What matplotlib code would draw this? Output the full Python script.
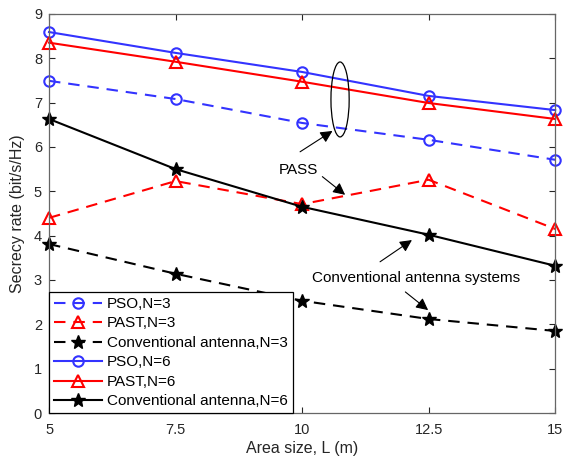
import numpy as np
import matplotlib
matplotlib.use("Agg")
import matplotlib.pyplot as plt
from matplotlib.patches import Ellipse

plt.rcParams['font.family'] = ['Liberation Sans', 'DejaVu Sans']

# data
area_size = [5, 7.5, 10, 12.5, 15]
pso_n3 = [7.49, 7.08, 6.54, 6.16, 5.71]
past_n3 = [4.40, 5.23, 4.71, 5.26, 4.15]
conv_n3 = [3.81, 3.14, 2.53, 2.12, 1.85]
pso_n6 = [8.59, 8.12, 7.69, 7.15, 6.83]
past_n6 = [8.35, 7.92, 7.47, 6.99, 6.63]
conv_n6 = [6.63, 5.50, 4.65, 4.02, 3.32]
x_ticks = [5, 7.5, 10, 12.5, 15]
x_tick_labels = ['5', '7.5', '10', '12.5', '15']

blue = '#3333ff'
red = '#ff0000'
dash = (0, (5.5, 3.8))

fig = plt.figure(figsize=(5.7, 4.62), dpi=100)
ax = fig.add_axes([0.086, 0.106, 0.888, 0.864])

common = dict(lw=1.5, clip_on=False)
ax.plot(area_size, pso_n3, color=blue, ls=dash, marker='o', ms=7.5, mfc='none', mew=1.5, label='PSO,N=3', **common)
ax.plot(area_size, past_n3, color=red, ls=dash, marker='^', ms=8.5, mfc='none', mew=1.5, label='PAST,N=3', **common)
ax.plot(area_size, conv_n3, color='k', ls=dash, marker='*', ms=10, label='Conventional antenna,N=3', **common)
ax.plot(area_size, pso_n6, color=blue, ls='-', marker='o', ms=7.5, mfc='none', mew=1.5, label='PSO,N=6', **common)
ax.plot(area_size, past_n6, color=red, ls='-', marker='^', ms=8.5, mfc='none', mew=1.5, label='PAST,N=6', **common)
ax.plot(area_size, conv_n6, color='k', ls='-', marker='*', ms=10, label='Conventional antenna,N=6', **common)

ax.set_xlim(5, 15)
ax.set_ylim(0, 9)
ax.set_xticks(x_ticks)
ax.set_xticklabels(x_tick_labels)
ax.set_yticks(np.arange(0, 10, 1))
ax.tick_params(direction='in', top=True, right=True, labelsize=10.5, colors='#262626', length=4)
ax.tick_params(axis='x', pad=7)
ax.tick_params(axis='y', pad=5)
for s in ax.spines.values():
    s.set_color('#666666')
    s.set_linewidth(0.9)
ax.set_xlabel('Area size, L (m)', fontsize=11.5, color='#262626', labelpad=3)
ax.set_ylabel('Secrecy rate (bit/s/Hz)', fontsize=11.5, color='#262626', labelpad=6)

# PASS annotation
ax.add_patch(Ellipse((10.75, 7.07), 0.36, 1.69, fill=False, ec='k', lw=0.9, zorder=5))
ax.text(9.93, 5.48, 'PASS', ha='center', va='center', fontsize=11, zorder=6)
arrow = dict(arrowstyle='-|>', color='k', lw=0.8, mutation_scale=18, shrinkA=0, shrinkB=0)
ax.annotate('', xy=(10.6, 6.36), xytext=(9.96, 5.89), arrowprops=arrow)
ax.annotate('', xy=(10.85, 4.92), xytext=(10.40, 5.33), arrowprops=arrow)

# conventional antenna annotation
ax.text(12.25, 3.05, 'Conventional antenna systems', ha='center', va='center', fontsize=11, zorder=6)
ax.annotate('', xy=(12.17, 3.90), xytext=(11.54, 3.41), arrowprops=arrow)
ax.annotate('', xy=(12.49, 2.32), xytext=(12.04, 2.73), arrowprops=arrow)

leg = ax.legend(loc='lower left', fontsize=11, handlelength=3.2, handletextpad=0.3,
                labelspacing=0.36, borderaxespad=0, borderpad=0.3, fancybox=False,
                framealpha=1, edgecolor='k')
leg.get_frame().set_linewidth(0.9)
leg.set_zorder(10)

fig.savefig('out.png', dpi=100)
